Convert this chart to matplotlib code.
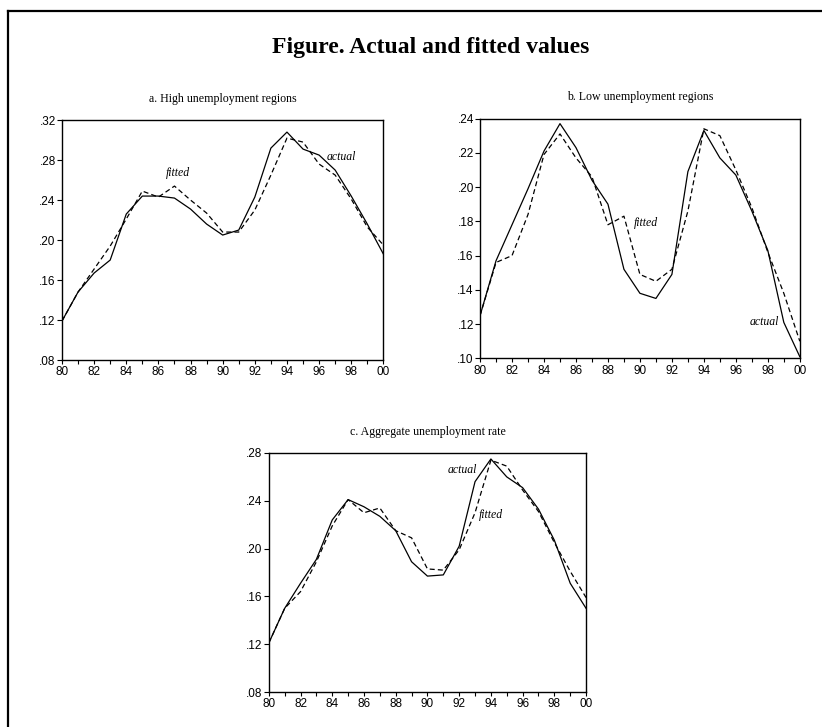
#!/usr/bin/env python3
# Actual and fitted unemployment rates, three panels
import matplotlib.pyplot as plt
from matplotlib.lines import Line2D

years = list(range(1980, 2001))

# a. High unemployment regions
high_actual = [0.119, 0.148, 0.167, 0.180, 0.226, 0.244, 0.244, 0.242, 0.231, 0.216, 0.205,
               0.210, 0.243, 0.292, 0.308, 0.291, 0.285, 0.270, 0.244, 0.216, 0.186]
high_fitted = [0.119, 0.148, 0.171, 0.194, 0.221, 0.249, 0.243, 0.254, 0.240, 0.227, 0.208,
               0.208, 0.230, 0.265, 0.302, 0.298, 0.276, 0.265, 0.241, 0.213, 0.195]

# b. Low unemployment regions
low_actual = [0.125, 0.157, 0.178, 0.199, 0.221, 0.237, 0.223, 0.204, 0.190, 0.152, 0.138,
              0.135, 0.149, 0.209, 0.233, 0.217, 0.207, 0.186, 0.163, 0.121, 0.101]
low_fitted = [0.125, 0.156, 0.160, 0.184, 0.219, 0.231, 0.217, 0.206, 0.178, 0.183, 0.149,
              0.145, 0.152, 0.186, 0.234, 0.230, 0.210, 0.188, 0.162, 0.138, 0.110]

# c. Aggregate unemployment rate
agg_actual = [0.121, 0.150, 0.171, 0.191, 0.224, 0.241, 0.235, 0.227, 0.215, 0.189, 0.177,
              0.178, 0.202, 0.256, 0.275, 0.260, 0.251, 0.233, 0.207, 0.171, 0.150]
agg_fitted = [0.121, 0.150, 0.164, 0.189, 0.219, 0.241, 0.230, 0.234, 0.215, 0.209, 0.183,
              0.182, 0.199, 0.230, 0.274, 0.269, 0.249, 0.231, 0.205, 0.181, 0.159]

panel_titles = ["a. High unemployment regions",
                "b. Low unemployment regions",
                "c. Aggregate unemployment rate"]
y_limits = [(0.08, 0.32), (0.10, 0.24), (0.08, 0.28)]
y_steps = [0.04, 0.02, 0.04]
# where the "fitted" / "actual" labels sit (year, value)
fitted_pos = [(1987.2, 0.267), (1990.4, 0.179), (1994.0, 0.228)]
actual_pos = [(1997.4, 0.283), (1997.8, 0.121), (1992.2, 0.266)]

x_ticks = list(range(1980, 2001, 2))
x_tick_labels = ["%02d" % (y % 100) for y in x_ticks]

fig = plt.figure(figsize=(8.22, 7.27), dpi=100)

# frame around the figure (only left and top edges show in the crop)
fig.add_artist(Line2D([8 / 822, 8 / 822], [0, 1 - 11 / 727], transform=fig.transFigure,
                      color="black", linewidth=1.6))
fig.add_artist(Line2D([8 / 822, 1], [1 - 11 / 727, 1 - 11 / 727], transform=fig.transFigure,
                      color="black", linewidth=1.6))

fig.text(0.524, 0.935, "Figure. Actual and fitted values", ha="center", va="center",
         family="Liberation Serif", fontweight="bold", fontsize=17)

axes_rects = [[0.0754, 0.5048, 0.391, 0.330],
              [0.584, 0.507, 0.389, 0.330],
              [0.327, 0.0481, 0.386, 0.3288]]
series = [(high_actual, high_fitted), (low_actual, low_fitted), (agg_actual, agg_fitted)]

for i in range(3):
    ax = fig.add_axes(axes_rects[i])
    actual, fitted = series[i]
    ax.plot(years, actual, color="black", linewidth=0.9)
    ax.plot(years, fitted, color="black", linewidth=0.9, linestyle=(0, (4, 2.5)))

    lo, hi = y_limits[i]
    ax.set_xlim(1980, 2000)
    ax.set_ylim(lo, hi)
    n = int(round((hi - lo) / y_steps[i]))
    yt = [lo + k * y_steps[i] for k in range(n + 1)]
    ax.set_yticks(yt)
    ax.set_yticklabels([("%.2f" % v)[1:] for v in yt], family="Liberation Sans", fontsize=8.5)
    ax.set_xticks(years, minor=True)
    ax.set_xticks(x_ticks)
    ax.set_xticklabels(x_tick_labels, family="Liberation Sans", fontsize=8.5)
    ax.tick_params(axis="y", which="both", direction="out", length=3.5, width=0.8, pad=1)
    ax.tick_params(axis="x", which="both", direction="out", length=3, width=0.8, pad=1.5)
    for s in ax.spines.values():
        s.set_linewidth(1.0)

    ax.set_title(panel_titles[i], family="Liberation Serif", fontsize=8.6, pad=13)

    ax.text(fitted_pos[i][0], fitted_pos[i][1], "fitted", family="Liberation Serif",
            style="italic", fontsize=8.5, ha="center", va="center")
    ax.text(actual_pos[i][0], actual_pos[i][1], "actual", family="Liberation Serif",
            style="italic", fontsize=8.5, ha="center", va="center")

plt.savefig("out.png", dpi=100)
